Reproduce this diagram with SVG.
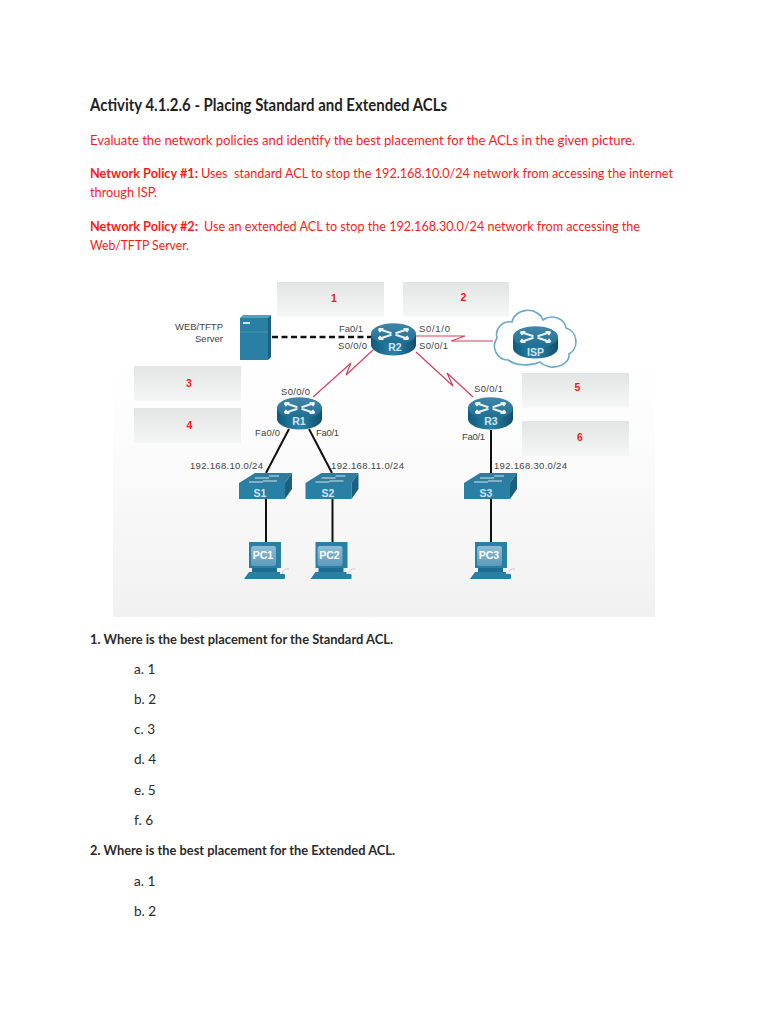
<svg xmlns="http://www.w3.org/2000/svg" xmlns:xlink="http://www.w3.org/1999/xlink" width="768" height="1024" viewBox="0 0 768 1024">
<style>
text{font-family:"Lato","Open Sans","Liberation Sans",sans-serif;white-space:pre}
.t{font-size:16.6px;font-weight:700;fill:#1f1f1f}
.r{font-size:13.3px;fill:#ff1a1a}
.rb{font-size:13.3px;font-weight:700;fill:#ff1a1a}
.q{font-size:13.3px;font-weight:700;fill:#2a2a2a}
.o{font-size:13.6px;fill:#2a2a2a}
.l{font-family:"Liberation Sans",Arial,sans-serif;font-size:9.5px;fill:#444}
.n{font-family:"Liberation Sans",Arial,sans-serif;font-size:10.5px;font-weight:700;fill:#f01818;text-anchor:middle}
.w{font-family:"Liberation Sans",Arial,sans-serif;font-size:10.5px;font-weight:700;fill:#cfe3ee;text-anchor:middle}
.box{fill:url(#boxg)}
.blk{fill:none;stroke:#111;stroke-width:2}
.red{fill:none;stroke:#d8405a;stroke-width:1.2}
</style>
<defs>
<linearGradient id="bg" x1="0" y1="0" x2="0" y2="1"><stop offset="0" stop-color="#fff"/><stop offset="0.3" stop-color="#fdfdfd"/><stop offset="1" stop-color="#f1f1f1"/></linearGradient>
<linearGradient id="boxg" x1="0" y1="0" x2="0" y2="1"><stop offset="0" stop-color="#e3e5e5"/><stop offset="1" stop-color="#f5f6f6"/></linearGradient>
<linearGradient id="rs" x1="0" y1="0" x2="1" y2="0"><stop offset="0" stop-color="#0f5a7c"/><stop offset="0.5" stop-color="#2a84a8"/><stop offset="1" stop-color="#0f4e6e"/></linearGradient>
<linearGradient id="rt" x1="0" y1="0" x2="0" y2="1"><stop offset="0" stop-color="#3f86a8"/><stop offset="1" stop-color="#1f6d92"/></linearGradient>
<linearGradient id="scr" x1="0" y1="0" x2="0" y2="1"><stop offset="0" stop-color="#8fbdd4"/><stop offset="1" stop-color="#5c9bbb"/></linearGradient>
<filter id="soft" x="-10%" y="-10%" width="120%" height="120%"><feGaussianBlur stdDeviation="0.35"/></filter>
<g id="router">
<path d="M-22.500 0V11A22.500 10.500 0 0 0 22.500 11V0Z" fill="url(#rs)"/>
<ellipse cx="0" cy="0" rx="22.500" ry="10.800" fill="url(#rt)"/>
<path d="M-15-5 L-2-.7M-15-5l5 0M-15-5l2 3M15 5 L2 .7M15 5l-5 0M15 5l-2-3M15-5 L2-.7M15-5l-5 0M15-5l-2 3M-15 5 L-2 .7M-15 5l5 0M-15 5l2-3" stroke="#e8f2f6" stroke-width="2" fill="none"/>
</g>
<g id="switch">
<path d="M0 10H46V26H0Z" fill="#2a7fa5"/>
<path d="M0 10 L16 0H53L46 10Z" fill="#2f7da0"/>
<path d="M46 10 L53 0V16L46 26Z" fill="#1a5f80"/>
<path d="M16 5h14M24 8h14M10 9h14M30 3h10" stroke="#d5e6ee" stroke-width="1.200" fill="none"/>
</g>
<g id="pc">
<path d="M0 0H32V26H0Z" fill="#2a7fa5"/>
<rect x="2" y="4" width="25" height="20" rx="2.500" fill="url(#scr)"/>
<path d="M3 26H28V30H3Z" fill="#1f6d91"/>
<path d="M0 30H31L31 37H-5Z" fill="#2a7fa5"/>
<rect x="30" y="32" width="6" height="5" rx="1" fill="#2a7fa5"/>
<path d="M33 32q1-6 7-5" stroke="#ccc" fill="none"/>
</g>
</defs>
<rect width="768" height="1024" fill="#fff"/>

<g id="document-text">
<text class="t" x="90" y="111" textLength="357" lengthAdjust="spacingAndGlyphs">Activity 4.1.2.6 - Placing Standard and Extended ACLs</text>
<text class="r" x="90" y="145" textLength="545" lengthAdjust="spacingAndGlyphs">Evaluate the network policies and identify the best placement for the ACLs in the given picture.</text>
<text class="rb" x="90" y="178" textLength="108" lengthAdjust="spacingAndGlyphs">Network Policy #1:</text>
<text class="r" x="201" y="178" textLength="472" lengthAdjust="spacingAndGlyphs">Uses  standard ACL to stop the 192.168.10.0/24 network from accessing the internet</text>
<text class="r" x="90" y="197" textLength="67" lengthAdjust="spacingAndGlyphs">through ISP.</text>
<text class="rb" x="90" y="231" textLength="108" lengthAdjust="spacingAndGlyphs">Network Policy #2:</text>
<text class="r" x="204" y="231" textLength="436" lengthAdjust="spacingAndGlyphs">Use an extended ACL to stop the 192.168.30.0/24 network from accessing the</text>
<text class="r" x="90" y="250" textLength="99" lengthAdjust="spacingAndGlyphs">Web/TFTP Server.</text>
<text class="q" x="90" y="644" textLength="303" lengthAdjust="spacingAndGlyphs">1. Where is the best placement for the Standard ACL.</text>
<text class="o" x="134" y="674">a. 1</text>
<text class="o" x="134" y="704">b. 2</text>
<text class="o" x="134" y="734">c. 3</text>
<text class="o" x="134" y="764">d. 4</text>
<text class="o" x="134" y="795">e. 5</text>
<text class="o" x="134" y="825">f. 6</text>
<text class="q" x="90" y="855" textLength="305" lengthAdjust="spacingAndGlyphs">2. Where is the best placement for the Extended ACL.</text>
<text class="o" x="134" y="886">a. 1</text>
<text class="o" x="134" y="916">b. 2</text>
</g>

<rect id="figure-background" x="113" y="340" width="542" height="277" fill="url(#bg)"/>

<g id="connectors">
<path class="blk" stroke-width="2.500" stroke-dasharray="6 3.500" style="stroke-width:2.500" d="M272 337H372"/>
<path class="red" d="M373 350L346 375L351 363L313 397"/>
<path class="red" d="M416 336H465L451 341H493"/>
<path class="red" d="M416 352L453 386L447 373L473 397"/>
<path class="blk" d="M289 429L266 473M309 429L332 473M491 430V473M266 499V542M332.500 499V542M491 499V542"/>
</g>

<g id="server" filter="url(#soft)">
<path d="M240 318H268V360H240Z" fill="#2a7fa5"/>
<path d="M240 318L243 315H271L268 318Z" fill="#5a9cbb"/>
<path d="M268 318L271 315V357L268 360Z" fill="#1a5f80"/>
<path d="M240 332H268" stroke="#5a9cbb" stroke-width="0.700"/>
<rect x="243" y="322" width="7" height="2" fill="#cfe3ee"/>
</g>
<g id="server-label">
<text class="l" x="223" y="330" text-anchor="end">WEB/TFTP</text>
<text class="l" x="223" y="342" text-anchor="end">Server</text>
</g>

<g id="cloud">
<path d="M508 360A14 14 0 0 1 497 338A13 13 0 0 1 512 322A16 14 0 0 1 543 320A14 12 0 0 1 566 328A13 14 0 0 1 569 354A16 12 0 0 1 540 362A22 12 0 0 1 508 360Z" fill="#fff" stroke="#6aa9cb" stroke-width="1.600" filter="url(#soft)"/>
</g>
<g id="ISP"><use xlink:href="#router" href="#router" x="535.500" y="337" filter="url(#soft)"/><text class="w" x="535.500" y="356">ISP</text></g>
<g id="R2"><use xlink:href="#router" href="#router" x="393.500" y="334" filter="url(#soft)"/><text class="w" x="395" y="351">R2</text></g>
<g id="R1"><use xlink:href="#router" href="#router" x="299.500" y="408" filter="url(#soft)"/><text class="w" x="299" y="425">R1</text></g>
<g id="R3"><use xlink:href="#router" href="#router" x="490.500" y="408" filter="url(#soft)"/><text class="w" x="491" y="425">R3</text></g>
<g id="S1"><use xlink:href="#switch" href="#switch" x="239" y="473" filter="url(#soft)"/><text class="w" x="260" y="497">S1</text></g>
<g id="S2"><use xlink:href="#switch" href="#switch" x="305.500" y="473" filter="url(#soft)"/><text class="w" x="328" y="497">S2</text></g>
<g id="S3"><use xlink:href="#switch" href="#switch" x="464" y="473" filter="url(#soft)"/><text class="w" x="486" y="497">S3</text></g>
<g id="PC1"><use xlink:href="#pc" href="#pc" x="249" y="542" filter="url(#soft)"/><text class="w" x="263" y="559" style="fill:#fff">PC1</text></g>
<g id="PC2"><use xlink:href="#pc" href="#pc" x="315.500" y="542" filter="url(#soft)"/><text class="w" x="329.500" y="559" style="fill:#fff">PC2</text></g>
<g id="PC3"><use xlink:href="#pc" href="#pc" x="475" y="542" filter="url(#soft)"/><text class="w" x="489" y="559" style="fill:#fff">PC3</text></g>

<g id="interface-labels">
<text class="l" x="339" y="332" textLength="24">Fa0/1</text>
<text class="l" x="338" y="349" textLength="29">S0/0/0</text>
<text class="l" x="419" y="332" textLength="31">S0/1/0</text>
<text class="l" x="419" y="349" textLength="29">S0/0/1</text>
<text class="l" x="281" y="395" textLength="29">S0/0/0</text>
<text class="l" x="255" y="436" textLength="25">Fa0/0</text>
<text class="l" x="316" y="436" textLength="23">Fa0/1</text>
<text class="l" x="190" y="469" textLength="73">192.168.10.0/24</text>
<text class="l" x="331" y="469" textLength="73">192.168.11.0/24</text>
<text class="l" x="474" y="392" textLength="29">S0/0/1</text>
<text class="l" x="462" y="440" textLength="23">Fa0/1</text>
<text class="l" x="494" y="469" textLength="73">192.168.30.0/24</text>
</g>

<g id="box-1"><rect class="box" x="277" y="282" width="107" height="34.500"/><text class="n" x="334" y="302">1</text></g>
<g id="box-2"><rect class="box" x="403" y="282" width="106" height="34.500"/><text class="n" x="463.500" y="301">2</text></g>
<g id="box-3"><rect class="box" x="134" y="366" width="107" height="34.500"/><text class="n" x="189" y="387">3</text></g>
<g id="box-4"><rect class="box" x="134" y="408" width="107" height="35"/><text class="n" x="189.500" y="429">4</text></g>
<g id="box-5"><rect class="box" x="522" y="373" width="107" height="34.500"/><text class="n" x="577.500" y="391">5</text></g>
<g id="box-6"><rect class="box" x="522" y="421" width="107" height="35"/><text class="n" x="580" y="441">6</text></g>
</svg>
